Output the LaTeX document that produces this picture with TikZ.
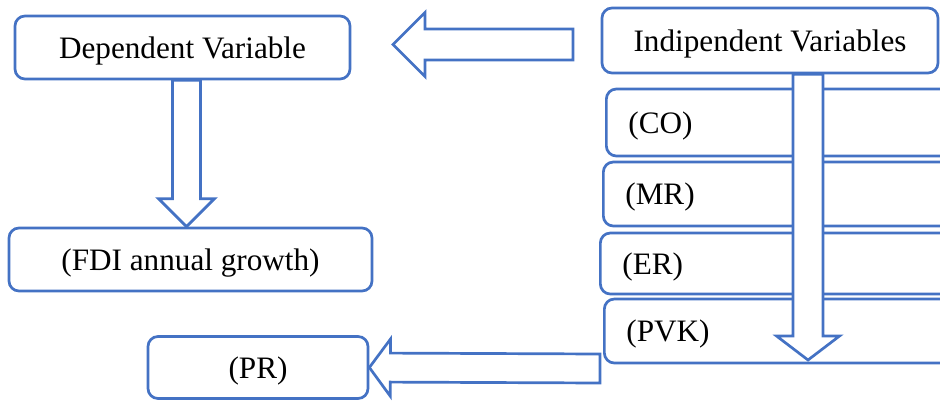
\documentclass[tikz,border=0pt]{standalone}
\usepackage{fontspec}
\setmainfont{Liberation Serif}
\usetikzlibrary{positioning,calc}
\definecolor{varblue}{RGB}{68,114,196}

\begin{document}
\begin{tikzpicture}[
    x=0.5pt, y=-0.5pt,
    every node/.style={font=\fontsize{15.6pt}{18pt}\selectfont},
    var/.style ={draw=varblue, line width=1.35pt, rounded corners=5pt,
                 fill=white, align=center, inner sep=0pt,
                 text height=10.8pt, text depth=0pt},
    sub/.style ={var, anchor=west, text width=168pt, align=left,
                 inner xsep=11pt},
    fatarrow/.style n args={3}{draw=varblue, line width=1.35pt, fill=white,
        to path={($(\tikztostart)!#1!90:(\tikztotarget)$)
          -- ($(\tikztotarget)!#3!(\tikztostart)!#1!-90:(\tikztostart)$)
          -- ($(\tikztotarget)!#3!(\tikztostart)!#2!-90:(\tikztostart)$)
          -- (\tikztotarget)
          -- ($(\tikztotarget)!#3!(\tikztostart)!#2!90:(\tikztostart)$)
          -- ($(\tikztotarget)!#3!(\tikztostart)!#1!90:(\tikztostart)$)
          -- ($(\tikztostart)!#1!-90:(\tikztotarget)$) -- cycle}},
]
\useasboundingbox (0,0) rectangle (940,401);
\clip (0,0) rectangle (940,401);

\node[var, minimum width=167.5pt, minimum height=31.5pt] (dv)  at (182.5,47.5) {Dependent Variable};
\node[var, minimum width=181.5pt, minimum height=31.5pt] (fdi) at (190.5,259.5) {(FDI annual growth)};
\node[var, minimum width=110pt,   minimum height=31pt]   (pr)  at (258,367.5) {(PR)};
\node[var, minimum width=168pt,   minimum height=32.5pt] (iv)  at (770,40.5) {Indipendent Variables};

% independent variables, cut off at the right edge
\node[sub, minimum height=33.5pt] (co)  at (605,122.5) {(CO)};
\node[sub, minimum height=32pt]   (mr)  at (602,194)   {(MR)};
\node[sub, minimum height=30.5pt] (er)  at (599,263.5) {(ER)};
\node[sub, minimum height=32pt]   (pvk) at (603,331)   {(PVK)};

\coordinate (ivtail)  at (573,44.5);
\coordinate (dvtip)   at (393,44.5);
\coordinate (ivtip)   at (808,360);
\coordinate (pvktail) at (600,368.5);

\draw[fatarrow={7.75pt}{16pt}{16pt}]   (ivtail) to (dvtip);
\draw[fatarrow={7pt}{14pt}{14pt}]      ([xshift=2pt]dv.south) to ([xshift=2pt]dv.south |- fdi.north);
\draw[fatarrow={7.5pt}{15.75pt}{12pt}] ([xshift=19pt]iv.south) to (ivtip);
\draw[fatarrow={7.25pt}{14.25pt}{10.5pt}] (pvktail) to (pr.east);

\end{tikzpicture}
\end{document}
